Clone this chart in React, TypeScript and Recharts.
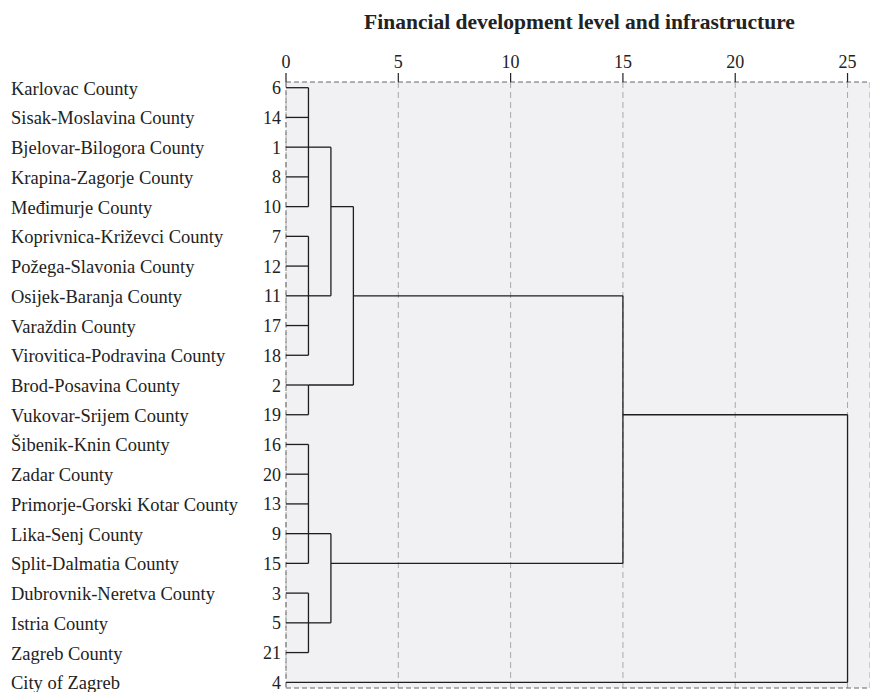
import React from "react";
import { LineChart, XAxis, YAxis, CartesianGrid, ReferenceLine } from "recharts";

// ---- data ----
const caseNumbers = [6, 14, 1, 8, 10, 7, 12, 11, 17, 18, 2, 19, 16, 20, 13, 9, 15, 3, 5, 21, 4];
const countyNames = [
  "Karlovac County",
  "Sisak-Moslavina County",
  "Bjelovar-Bilogora County",
  "Krapina-Zagorje County",
  "Međimurje County",
  "Koprivnica-Križevci County",
  "Požega-Slavonia County",
  "Osijek-Baranja County",
  "Varaždin County",
  "Virovitica-Podravina County",
  "Brod-Posavina County",
  "Vukovar-Srijem County",
  "Šibenik-Knin County",
  "Zadar County",
  "Primorje-Gorski Kotar County",
  "Lika-Senj County",
  "Split-Dalmatia County",
  "Dubrovnik-Neretva County",
  "Istria County",
  "Zagreb County",
  "City of Zagreb",
];
// nodes 0..20 are leaves (rows), nodes 21.. are merges in this order
const mergeChildren = [
  [0, 1, 2, 3, 4],
  [5, 6, 7, 8, 9],
  [21, 22],
  [10, 11],
  [23, 24],
  [12, 13, 14, 15, 16],
  [17, 18, 19],
  [26, 27],
  [25, 28],
  [29, 20],
];
const mergeHeights = [1, 1, 2, 1, 3, 1, 1, 2, 15, 25];
const mergeRows = [2, 7, 4, 10, 7, 15, 18, 16, 11, 20];
const xTicks = [0, 5, 10, 15, 20, 25];
const title = "Financial development level and infrastructure";

// ---- derived ----
const leafCount = caseNumbers.length;
const nodeRow = (n: number) => (n < leafCount ? n : mergeRows[n - leafCount]);
const nodeHeight = (n: number) => (n < leafCount ? 0 : mergeHeights[n - leafCount]);

type Seg = { x1: number; y1: number; x2: number; y2: number };
const segments: Seg[] = [];
mergeChildren.forEach((children, i) => {
  const h = mergeHeights[i];
  const rows = children.map(nodeRow);
  children.forEach((c) => {
    segments.push({ x1: nodeHeight(c), y1: nodeRow(c), x2: h, y2: nodeRow(c) });
  });
  segments.push({ x1: h, y1: Math.min(...rows), x2: h, y2: Math.max(...rows) });
});

const chartData = caseNumbers.map((c, i) => ({ x: 0, row: i, caseNo: c }));
const rowTicks = caseNumbers.map((_, i) => i);

const PAD = 0.1917;
const yMin = -PAD;
const yMax = leafCount - 1 + PAD;
const FONT = "'Liberation Serif', 'Times New Roman', serif";
const INK = "#222";

const YTick = (props: any) => {
  const { x, y, payload } = props;
  const idx = payload.value as number;
  return (
    <g>
      <text x={x} y={y} dy={6.5} textAnchor="end" fontFamily={FONT} fontSize={18} fill={INK}>
        {caseNumbers[idx]}
      </text>
      <text x={11} y={y} dy={7} textAnchor="start" fontFamily={FONT} fontSize={18.5} fill={INK}>
        {countyNames[idx]}
      </text>
    </g>
  );
};

export default function App() {
  return (
    <div style={{ position: "absolute", left: 0, top: 0, width: 870, height: 692, background: "#fff" }}>
      <div
        style={{
          position: "absolute",
          left: 289.5,
          top: 12,
          width: 580,
          textAlign: "center",
          fontFamily: FONT,
          fontWeight: "bold",
          fontSize: 21.5,
          lineHeight: "21.5px",
          color: INK,
          whiteSpace: "nowrap",
        }}
      >
        {title}
      </div>
      <LineChart
        width={870}
        height={692}
        data={chartData}
        margin={{ top: 42, right: 0, bottom: 4, left: 0 }}
      >
        <CartesianGrid
          horizontal={false}
          vertical={true}
          fill="#f1f1f3"
          stroke="#a8a8a8"
          strokeDasharray="6 4"
        />
        <XAxis
          type="number"
          dataKey="x"
          orientation="top"
          domain={[0, 26]}
          ticks={xTicks}
          allowDataOverflow
          height={40}
          axisLine={false}
          tickSize={9}
          tickMargin={5}
          tickLine={{ stroke: INK, strokeWidth: 1.2 }}
          tick={{ fontFamily: FONT, fontSize: 18, fill: INK }}
        />
        <YAxis
          type="number"
          dataKey="row"
          domain={[yMin, yMax]}
          reversed
          ticks={rowTicks}
          interval={0}
          allowDataOverflow
          width={286}
          axisLine={false}
          tickLine={false}
          tickSize={0}
          tickMargin={5}
          tick={<YTick />}
        />
        <ReferenceLine y={yMin} stroke="#666" strokeDasharray="5 3" ifOverflow="visible" />
        <ReferenceLine y={yMax} stroke="#666" strokeDasharray="5 3" ifOverflow="visible" />
        <ReferenceLine x={0} stroke="#777" strokeDasharray="5 3" ifOverflow="visible" />
        {segments.map((s, i) => (
          <ReferenceLine
            key={i}
            segment={[
              { x: s.x1, y: s.y1 },
              { x: s.x2, y: s.y2 },
            ]}
            stroke="#1e1e1e"
            strokeWidth={1.3}
            ifOverflow="visible"
          />
        ))}
      </LineChart>
    </div>
  );
}
